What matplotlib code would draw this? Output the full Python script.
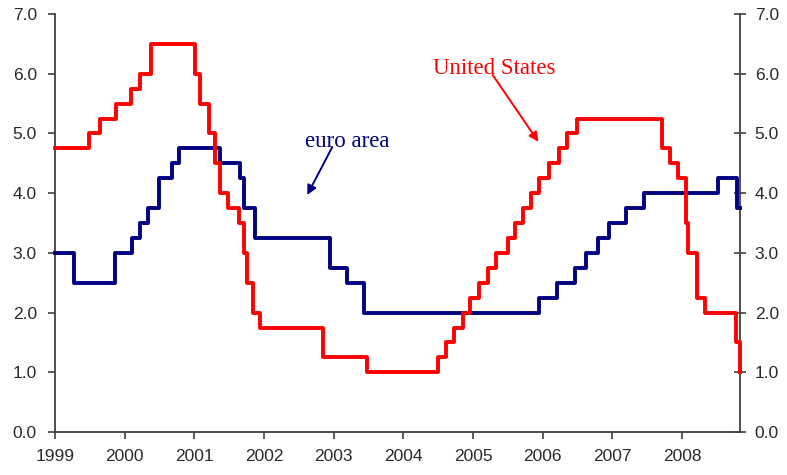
import matplotlib
matplotlib.use("Agg")
import matplotlib.pyplot as plt
import matplotlib.dates as mdates
import pandas as pd

# policy rate changes (date the new rate took effect, rate in %)
us_dates = ["1999-01-01", "1999-06-30", "1999-08-24", "1999-11-16", "2000-02-02",
            "2000-03-21", "2000-05-16", "2001-01-03", "2001-01-31", "2001-03-20",
            "2001-04-18", "2001-05-15", "2001-06-27", "2001-08-21", "2001-09-17",
            "2001-10-02", "2001-11-06", "2001-12-11", "2002-11-06", "2003-06-25",
            "2004-06-30", "2004-08-10", "2004-09-21", "2004-11-10", "2004-12-14",
            "2005-02-02", "2005-03-22", "2005-05-03", "2005-06-30", "2005-08-09",
            "2005-09-20", "2005-11-01", "2005-12-13", "2006-01-31", "2006-03-28",
            "2006-05-10", "2006-06-29", "2007-09-18", "2007-10-31", "2007-12-11",
            "2008-01-22", "2008-01-30", "2008-03-18", "2008-04-30", "2008-10-08",
            "2008-10-29"]
us_rate = [4.75, 5.00, 5.25, 5.50, 5.75, 6.00, 6.50, 6.00, 5.50, 5.00,
           4.50, 4.00, 3.75, 3.50, 3.00, 2.50, 2.00, 1.75, 1.25, 1.00,
           1.25, 1.50, 1.75, 2.00, 2.25, 2.50, 2.75, 3.00, 3.25, 3.50,
           3.75, 4.00, 4.25, 4.50, 4.75, 5.00, 5.25, 4.75, 4.50, 4.25,
           3.50, 3.00, 2.25, 2.00, 1.50, 1.00]

ea_dates = ["1999-01-01", "1999-04-09", "1999-11-10", "2000-02-09", "2000-03-22",
            "2000-05-04", "2000-06-28", "2000-09-06", "2000-10-11", "2001-05-15",
            "2001-08-30", "2001-09-18", "2001-11-14", "2002-12-11", "2003-03-12",
            "2003-06-09", "2005-12-13", "2006-03-15", "2006-06-21", "2006-08-15",
            "2006-10-17", "2006-12-13", "2007-03-14", "2007-06-13", "2008-07-09",
            "2008-10-15"]
ea_rate = [3.00, 2.50, 3.00, 3.25, 3.50, 3.75, 4.25, 4.50, 4.75, 4.50,
           4.25, 3.75, 3.25, 2.75, 2.50, 2.00, 2.25, 2.50, 2.75, 3.00,
           3.25, 3.50, 3.75, 4.00, 4.25, 3.75]

end_date = "2008-10-31"
years = list(range(1999, 2009))
yticks = [0, 1, 2, 3, 4, 5, 6, 7]

plt.rcParams['font.family'] = ['Liberation Sans', 'DejaVu Sans']

fig = plt.figure(figsize=(7.87, 4.75), dpi=100)
ax = fig.add_axes([0.0699, 0.0905, 0.8705, 0.88])

us_x = pd.to_datetime(us_dates + [end_date])
us_y = us_rate + [us_rate[-1]]
ea_x = pd.to_datetime(ea_dates + [end_date])
ea_y = ea_rate + [ea_rate[-1]]

ax.plot(us_x, us_y, drawstyle='steps-post', color='#ff0000', lw=2.8,
        clip_on=False, zorder=5)
ax.plot(ea_x, ea_y, drawstyle='steps-post', color='#000080', lw=2.8,
        clip_on=False, zorder=4)

ax.set_xlim(pd.Timestamp("1999-01-01"), pd.Timestamp(end_date))
ax.set_ylim(0, 7)
ax.set_yticks(yticks)
ax.yaxis.set_major_formatter(matplotlib.ticker.FormatStrFormatter('%.1f'))
ax.set_xticks([pd.Timestamp(f"{y}-01-01") for y in years])
ax.xaxis.set_major_formatter(mdates.DateFormatter('%Y'))

spine_col = '#404040'
for side in ['top', 'right']:
    ax.spines[side].set_visible(False)
for side in ['left', 'bottom']:
    ax.spines[side].set_color(spine_col)
    ax.spines[side].set_linewidth(1.3)
ax.tick_params(axis='both', colors=spine_col, labelcolor='#2a2a2a',
               labelsize=12.5, length=5, width=1.2)
ax.tick_params(axis='x', pad=7)
ax.tick_params(axis='y', pad=8)

ax2 = ax.twinx()
ax2.set_ylim(0, 7)
ax2.set_yticks(yticks)
ax2.yaxis.set_major_formatter(matplotlib.ticker.FormatStrFormatter('%.1f'))
for side in ['top', 'left', 'bottom']:
    ax2.spines[side].set_visible(False)
ax2.spines['right'].set_color(spine_col)
ax2.spines['right'].set_linewidth(1.3)
ax2.tick_params(axis='y', direction='inout', colors=spine_col, labelcolor='#2a2a2a',
                labelsize=12.5, length=9, width=1.2, pad=6)
ax.set_zorder(ax2.get_zorder() + 1)
ax.patch.set_visible(False)

# series labels with pointer arrows
serif = ['Liberation Serif', 'DejaVu Serif']
ax.text(pd.Timestamp("2003-03-13"), 4.86, "euro area", color='#000080',
        fontsize=16.5, family=serif, ha='center', va='center')
ax.annotate("", xy=(pd.Timestamp("2002-08-15"), 3.97),
            xytext=(pd.Timestamp("2002-12-24"), 4.77),
            arrowprops=dict(arrowstyle='-|>', color='#000080', lw=1.4,
                            mutation_scale=14, shrinkA=0, shrinkB=0))
ax.text(pd.Timestamp("2005-04-22"), 6.08, "United States", color='#ff0000',
        fontsize=16.5, family=serif, ha='center', va='center')
ax.annotate("", xy=(pd.Timestamp("2005-12-09"), 4.86),
            xytext=(pd.Timestamp("2005-04-13"), 5.98),
            arrowprops=dict(arrowstyle='-|>', color='#ff0000', lw=1.4,
                            mutation_scale=14, shrinkA=0, shrinkB=0))

fig.savefig("out.png", dpi=100)
